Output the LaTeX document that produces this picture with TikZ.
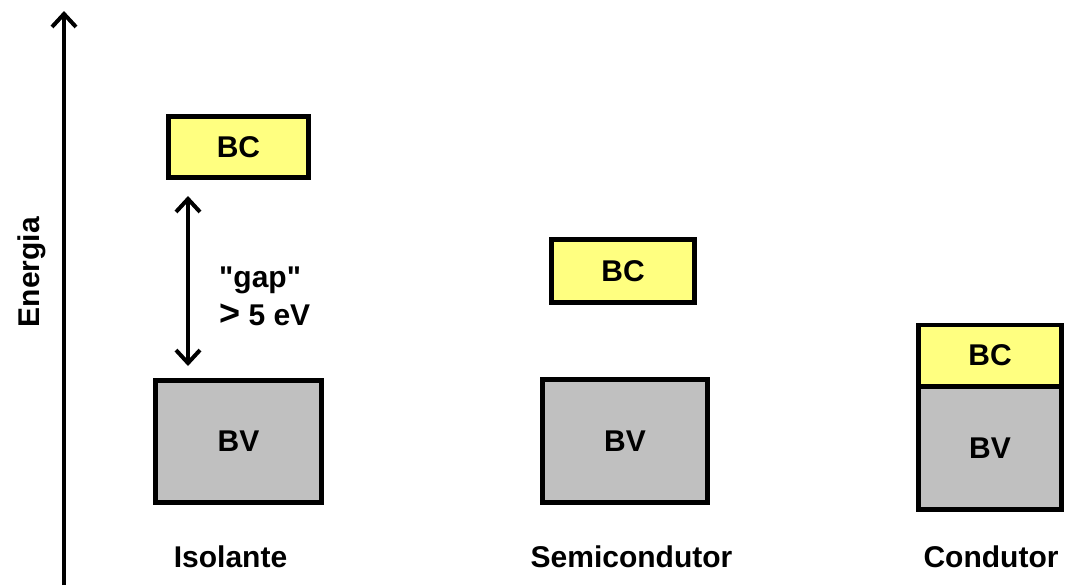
\documentclass[tikz,border=0pt]{standalone}
\usepackage{fontspec}
\setmainfont{Liberation Sans}[Ligatures=TeXOff]
\usetikzlibrary{arrows.meta}
\definecolor{bcyellow}{RGB}{255,255,128}
\definecolor{bvgray}{RGB}{192,192,192}
\tikzset{
  band/.style={draw=black, line width=4.5pt, inner sep=0pt, font=\fontsize{30}{36}\selectfont\bfseries},
  bcband/.style={band, fill=bcyellow},
  bvband/.style={band, fill=bvgray},
  lbl/.style={font=\fontsize{30}{36}\selectfont\bfseries, anchor=base, inner sep=0pt},
  chev/.style={line width=4pt},
  tip/.tip={Straight Barb[length=13pt,width=24pt,line width=4pt]}
}
\begin{document}
\begin{tikzpicture}[x=1pt,y=-1pt]
\useasboundingbox (0,0) rectangle (1068,587);
% energy axis
\coordinate (axb) at (64,585);
\coordinate (axt) at (64,11);
\draw[chev,-{tip}] (axb) -- (axt);
\node[font=\fontsize{30}{36}\selectfont\bfseries, rotate=90, inner sep=0pt] (en) at (32,272) {Energia};
% Isolante
\node[bcband, minimum width=140pt, minimum height=61pt] (bc1) at (238.5,147) {BC};
\node[bvband, minimum width=166pt, minimum height=122pt] (bv1) at (238.5,441.5) {BV};
\coordinate (g1) at (188,196);
\coordinate (g2) at (188,366);
\draw[chev,{tip}-{tip}] (g1) -- (g2);
\node[lbl, anchor=base west] (gap) at (219,287) {"gap"};
\node[lbl, anchor=base west] (ev) at (219,325) {\fontsize{36}{36}\selectfont>\fontsize{30}{36}\selectfont{} 5 eV};
\node[lbl] (l1) at (230.5,567) {Isolante};
% Semicondutor
\node[bcband, minimum width=143pt, minimum height=63pt] (bc2) at (623,271) {BC};
\node[bvband, minimum width=165pt, minimum height=123pt] (bv2) at (625,441) {BV};
\node[lbl] (l2) at (631.5,567) {Semicondutor};
% Condutor
\node[bcband, minimum width=143pt, minimum height=61pt, anchor=south] (bc3) at (990,388) {BC};
\node[bvband, minimum width=143pt, minimum height=123pt, anchor=north] (bv3) at (990,384) {BV};
\node[lbl] (l3) at (991,567) {Condutor};
\end{tikzpicture}
\end{document}
